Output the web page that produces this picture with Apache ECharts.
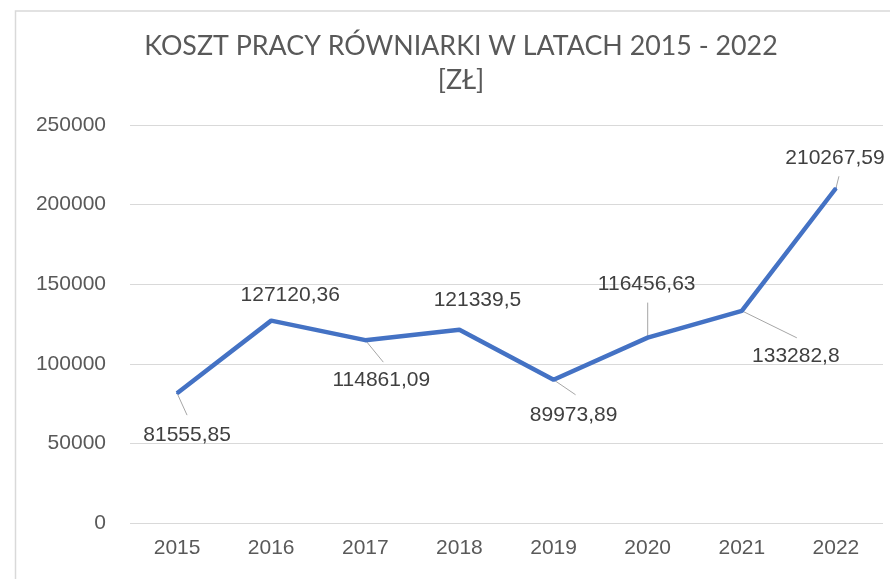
<!DOCTYPE html>
<html>
<head>
<meta charset="utf-8">
<script src="https://cdn.jsdelivr.net/npm/echarts@6/dist/echarts.min.js"></script>
<style>
  html, body { margin: 0; padding: 0; background: #fff; }
  #chart { width: 890px; height: 579px; }
</style>
</head>
<body>
<div id="chart"></div>
<script>
const years = ['2015', '2016', '2017', '2018', '2019', '2020', '2021', '2022'];
const costs = [81555.85, 127120.36, 114861.09, 121339.5, 89973.89, 116456.63, 133282.8, 210267.59];
const yTicks = [0, 50000, 100000, 150000, 200000, 250000];

// label placement (offset from the point) and leader line ends (null = no leader)
const labelShift = [[10, 42], [19, -25], [16, 40], [18, -30], [20, 35], [-1, -53], [54, 45], [-1, -30]];
const leaderEnd = [[10, 22], null, [18, 22], null, [22, 15], [0, -35], [55, 27], [3, -12]];

const fmt = v => String(v).replace('.', ',');

const chart = echarts.init(document.getElementById('chart'));

chart.setOption({
    animation: false,
    title: {
        text: 'KOSZT PRACY RÓWNIARKI W LATACH 2015 - 2022\n[ZŁ]',
        left: 456,
        top: 24,
        textAlign: 'center',
        textStyle: {
            fontFamily: 'Lato',
            fontSize: 26.8,
            lineHeight: 34,
            fontWeight: 'normal',
            color: '#595959'
        }
    },
    graphic: [{
        type: 'rect',
        shape: { x: 15.5, y: 11, width: 900, height: 600 },
        style: { fill: 'none', stroke: '#d9d9d9', lineWidth: 1.5 },
        silent: true
    }],
    grid: { left: 130, right: 7, top: 125, bottom: 56, containLabel: false, outerBoundsMode: 'none' },
    xAxis: {
        type: 'category',
        data: years,
        boundaryGap: true,
        axisLine: { show: false },
        axisTick: { show: false },
        axisLabel: { color: '#595959', fontFamily: 'Liberation Sans', fontSize: 21, margin: 15 }
    },
    yAxis: {
        type: 'value',
        min: yTicks[0],
        max: yTicks[yTicks.length - 1],
        interval: 50000,
        axisLine: { show: false },
        axisTick: { show: false },
        axisLabel: {
            color: '#595959', fontFamily: 'Liberation Sans', fontSize: 21, margin: 24,
            formatter: v => String(v)
        },
        splitLine: { lineStyle: { color: '#d9d9d9', width: 1.2 } }
    },
    series: [{
        // leader lines from each point toward its label
        type: 'custom',
        z: 1,
        silent: true,
        data: costs.map((v, i) => [i, v]),
        renderItem: (params, api) => {
            const end = leaderEnd[params.dataIndex];
            if (!end) return null;
            const pt = api.coord([api.value(0), api.value(1)]);
            return {
                type: 'line',
                shape: { x1: pt[0], y1: pt[1], x2: pt[0] + end[0], y2: pt[1] + end[1] },
                style: { stroke: '#a6a6a6', lineWidth: 1 }
            };
        }
    }, {
        type: 'line',
        z: 2,
        data: costs,
        symbol: 'circle',
        symbolSize: 2,
        itemStyle: { color: '#4472C4' },
        lineStyle: { color: '#4472C4', width: 4.5 },
        label: {
            show: true,
            position: 'inside',
            formatter: p => fmt(p.value),
            color: '#404040',
            fontFamily: 'Liberation Sans',
            fontSize: 21
        },
        labelLayout: p => ({ dx: labelShift[p.dataIndex][0], dy: labelShift[p.dataIndex][1] })
    }]
});
</script>
</body>
</html>
